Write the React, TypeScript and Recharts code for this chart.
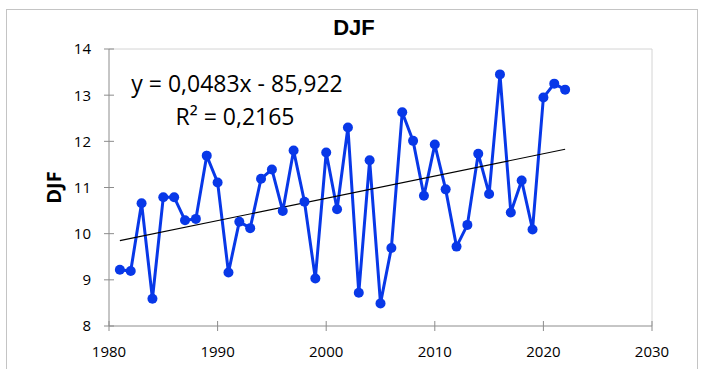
import { LineChart, Line, XAxis, YAxis, ReferenceLine } from 'recharts';

const years = [
  1981, 1982, 1983, 1984, 1985, 1986, 1987, 1988, 1989, 1990,
  1991, 1992, 1993, 1994, 1995, 1996, 1997, 1998, 1999, 2000,
  2001, 2002, 2003, 2004, 2005, 2006, 2007, 2008, 2009, 2010,
  2011, 2012, 2013, 2014, 2015, 2016, 2017, 2018, 2019, 2020,
  2021, 2022,
];
const djf = [
  9.22, 9.19, 10.66, 8.59, 10.79, 10.79, 10.29, 10.32, 11.69, 11.11,
  9.16, 10.26, 10.12, 11.19, 11.39, 10.49, 11.8, 10.69, 9.03, 11.76,
  10.53, 12.3, 8.72, 11.59, 8.49, 9.69, 12.63, 12.01, 10.82, 11.93,
  10.96, 9.72, 10.19, 11.73, 10.86, 13.45, 10.46, 11.15, 10.09, 12.95,
  13.25, 13.12,
];
const xTicks = [1980, 1990, 2000, 2010, 2020, 2030];
const yTicks = [8, 9, 10, 11, 12, 13, 14];
const equation = 'y = 0,0483x - 85,922';
const rSquared = 'R² = 0,2165';

const data = years.map((year, i) => ({ year, djf: djf[i] }));

// least squares fit, like the Excel trendline
const n = years.length;
const mx = years.reduce((a, b) => a + b, 0) / n;
const my = djf.reduce((a, b) => a + b, 0) / n;
let sxy = 0;
let sxx = 0;
years.forEach((x, i) => {
  sxy += (x - mx) * (djf[i] - my);
  sxx += (x - mx) * (x - mx);
});
const slope = sxy / sxx;
const intercept = my - slope * mx;
const trend = [years[0], years[n - 1]].map((year) => ({ year, trend: slope * year + intercept }));

const AXIS = '#8c8c8c';
const BORDER = '#d4d4d4';
const FONT = '"Open Sans", "Liberation Sans", sans-serif';
const TICK_SIZE = 5;
const Y_MARGIN = 13;
const X_MARGIN = 15;

const XTick = ({ x, y, payload }: any) => {
  const axisY = y - TICK_SIZE - X_MARGIN;
  return (
    <g>
      <line x1={x} x2={x} y1={axisY - 5} y2={axisY + 5} stroke={AXIS} />
      <text x={x} y={y} dy="0.71em" textAnchor="middle" fill="#000" fontSize={15} fontFamily={FONT}>
        {payload.value}
      </text>
    </g>
  );
};

const YTick = ({ x, y, payload }: any) => {
  const axisX = x + TICK_SIZE + Y_MARGIN;
  return (
    <g>
      <line x1={axisX - 5} x2={axisX + 5} y1={y} y2={y} stroke={AXIS} />
      <text x={x} y={y} dy="0.36em" textAnchor="end" fill="#000" fontSize={15} fontFamily={FONT}>
        {payload.value}
      </text>
    </g>
  );
};

const YLabel = ({ viewBox }: any) => {
  const cx = 53;
  const cy = viewBox.y + viewBox.height / 2;
  return (
    <text
      x={cx}
      y={cy}
      transform={`rotate(-90, ${cx}, ${cy})`}
      textAnchor="middle"
      dominantBaseline="central"
      fontWeight="bold"
      fontSize={20}
      fontFamily={FONT}
      fill="#000"
    >
      DJF
    </text>
  );
};

export default function App() {
  return (
    <div style={{ position: 'relative', width: 707, height: 369, background: '#fff', overflow: 'hidden' }}>
      <style>{'body{margin:0}'}</style>
      <div
        style={{
          position: 'absolute',
          left: 6,
          top: 9,
          width: 690,
          height: 380,
          border: '1px solid #c4c4c4',
        }}
      />
      <LineChart
        width={707}
        height={369}
        data={data}
        margin={{ top: 49, right: 55, bottom: 0, left: 0 }}
        style={{ position: 'absolute', left: 0, top: 0 }}
      >
        <XAxis
          dataKey="year"
          type="number"
          domain={[1980, 2030]}
          ticks={xTicks}
          height={43}
          tickLine={false}
          tickSize={TICK_SIZE}
          tickMargin={X_MARGIN}
          axisLine={{ stroke: AXIS }}
          tick={<XTick />}
          allowDataOverflow
        />
        <YAxis
          type="number"
          domain={[8, 14]}
          ticks={yTicks}
          width={109}
          tickLine={false}
          tickSize={TICK_SIZE}
          tickMargin={Y_MARGIN}
          axisLine={{ stroke: AXIS }}
          tick={<YTick />}
          label={{ content: <YLabel /> }}
          allowDataOverflow
        />
        <ReferenceLine y={14} stroke={BORDER} />
        <ReferenceLine x={2030} stroke={BORDER} />
        <Line
          dataKey="djf"
          stroke="#0838e8"
          strokeWidth={3}
          dot={{ r: 5, fill: '#0838e8', stroke: '#0838e8', strokeWidth: 0 }}
          isAnimationActive={false}
        />
        <Line
          data={trend}
          dataKey="trend"
          stroke="#000"
          strokeWidth={1.2}
          dot={false}
          isAnimationActive={false}
        />
        <text x={354} y={35} textAnchor="middle" fontWeight="bold" fontSize={22} fontFamily='"Liberation Sans", Arial, sans-serif' fill="#000">
          DJF
        </text>
        <text x={237} y={92} textAnchor="middle" fontSize={23} fontFamily={FONT} fill="#000">
          {equation}
        </text>
        <text x={235} y={125} textAnchor="middle" fontSize={23} fontFamily={FONT} fill="#000">
          {rSquared}
        </text>
      </LineChart>
    </div>
  );
}
